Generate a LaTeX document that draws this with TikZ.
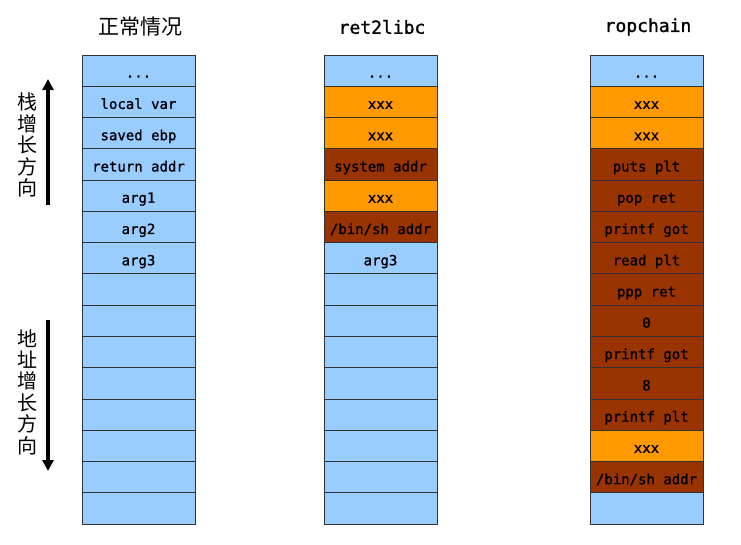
\documentclass[tikz,border=0pt]{standalone}
\usepackage{fontspec}
\setmonofont{DejaVu Sans Mono}
\newfontfamily\cellfont{DejaVu Sans Mono}[FakeBold=1.2]
\newfontfamily\cjk{Noto Sans CJK SC}
\usetikzlibrary{arrows.meta}
\definecolor{stackblue}{HTML}{99CCFF}
\definecolor{stackorange}{HTML}{FF9900}
\definecolor{stackbrown}{HTML}{993300}
\def \cellwidth {113}
\def \cellheight {31.27}
\def \stacktop {55}
\def \stackdots {...}
\tikzset{
  cell/.style={draw=black!80, line width=0.8pt, minimum width=\cellwidth pt,
    minimum height=\cellheight pt, inner sep=0pt, text height=14pt, text depth=0pt,
    font=\cellfont\fontsize{14}{14}\selectfont},
  monotitle/.style={font=\cellfont\fontsize{18}{18}\selectfont},
  cjktitle/.style={font=\cjk\fontsize{21}{21}\selectfont},
  vtext/.style={font=\cjk\fontsize{20}{21.4}\selectfont, align=center, inner sep=0pt},
  growth/.style={line width=3.2pt, -{Triangle[length=11pt,width=11pt]}}
}

\begin{document}
\begin{tikzpicture}[x=1pt,y=-1pt]
\useasboundingbox (0,0) rectangle (741,544);
% Titles
\node[cjktitle] (tnormal) at (140,27) {正常情况};
\node[monotitle] (tret) at (382,27) {ret2libc};
\node[monotitle] (trop) at (648,27) {ropchain};
% Normal stack
\foreach \lab/\col [count=\i] in {\stackdots/stackblue, local var/stackblue, saved ebp/stackblue,
  return addr/stackblue, arg1/stackblue, arg2/stackblue, arg3/stackblue,
  {}/stackblue, {}/stackblue, {}/stackblue, {}/stackblue, {}/stackblue,
  {}/stackblue, {}/stackblue, {}/stackblue}
{
\node[cell, fill=\col] (normal\i) at (138.5, \stacktop+\cellheight*\i-\cellheight/2) {\lab};
}
% ret2libc stack
\foreach \lab/\col [count=\i] in {\stackdots/stackblue, xxx/stackorange, xxx/stackorange,
  system addr/stackbrown, xxx/stackorange, {/bin/sh addr}/stackbrown, arg3/stackblue,
  {}/stackblue, {}/stackblue, {}/stackblue, {}/stackblue, {}/stackblue,
  {}/stackblue, {}/stackblue, {}/stackblue}
{
\node[cell, fill=\col] (ret\i) at (380.5, \stacktop+\cellheight*\i-\cellheight/2) {\lab};
}
% ropchain stack
\foreach \lab/\col [count=\i] in {\stackdots/stackblue, xxx/stackorange, xxx/stackorange,
  puts plt/stackbrown, pop ret/stackbrown, printf got/stackbrown, read plt/stackbrown,
  ppp ret/stackbrown, 0/stackbrown, printf got/stackbrown, 8/stackbrown,
  printf plt/stackbrown, xxx/stackorange, {/bin/sh addr}/stackbrown, {}/stackblue}
{
\node[cell, fill=\col] (rop\i) at (646.5, \stacktop+\cellheight*\i-\cellheight/2) {\lab};
}
% Growth directions
\node[vtext] (stacklabel) at (27,145) {栈\\增\\长\\方\\向};
\coordinate (stackfrom) at (48,205);
\coordinate (stackto) at (48,79);
\draw[growth] (stackfrom) -- (stackto);
\node[vtext] (addrlabel) at (27,392) {地\\址\\增\\长\\方\\向};
\coordinate (addrfrom) at (48,320);
\coordinate (addrto) at (48,471);
\draw[growth] (addrfrom) -- (addrto);
\end{tikzpicture}
\end{document}
